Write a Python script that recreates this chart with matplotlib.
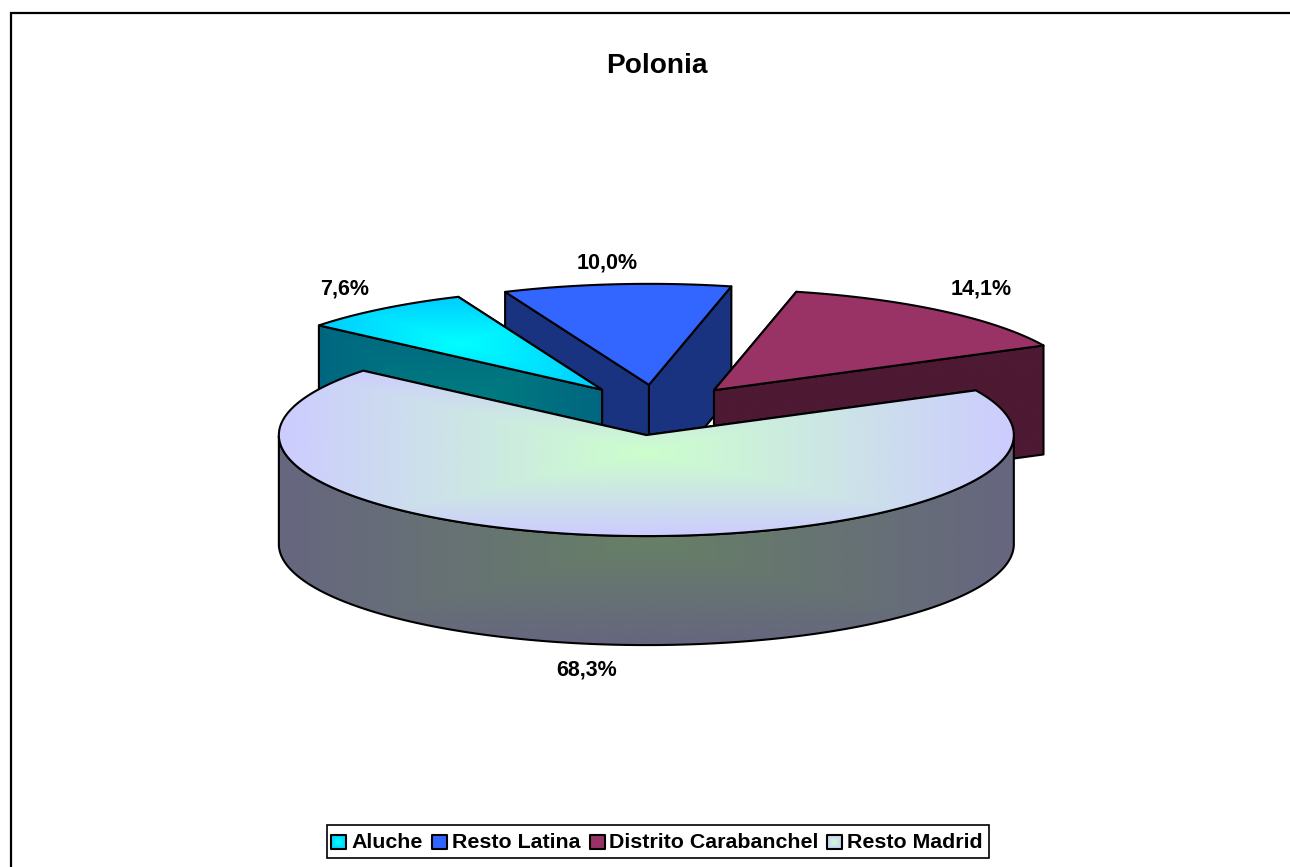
import numpy as np
import matplotlib
matplotlib.use("Agg")
import matplotlib.pyplot as plt
from matplotlib.patches import Polygon, Rectangle

plt.rcParams['font.family'] = ['Liberation Sans', 'DejaVu Sans']

categories = ["Aluche", "Resto Latina", "Distrito Carabanchel", "Resto Madrid"]
shares = [7.6, 10.0, 14.1, 68.3]
share_labels = ["7,6%", "10,0%", "14,1%", "68,3%"]
exploded = [0.25, 0.25, 0.25, 0.25]

# colours: top centre, top edge, side centre, side edge
top_centre = [(0, 255, 255), (51, 102, 255), (153, 51, 102), (204, 255, 204)]
top_edge = [(0, 204, 255), (51, 102, 255), (153, 51, 102), (204, 204, 255)]
side_centre = [(0, 128, 128), (25, 51, 128), (77, 25, 51), (102, 128, 102)]
side_edge = [(0, 102, 128), (25, 51, 128), (77, 25, 51), (102, 102, 128)]

# layout, in figure pixels
cx, cy = 657, 410
rx, ry = 367.5, 101
depth = 109
start_angle = 140.4
label_pos = [(345, 289.5), (607, 262.5), (981, 289.5), (587, 670)]
swatch_x = [331, 432, 590, 827]
legend_text_x = [351, 452, 609, 847]

fig = plt.figure(figsize=(12.9, 8.67), dpi=100)
ax = fig.add_axes([0, 0, 1, 1])


def fill(verts, centre, edge, z, lw=1.5):
    # path-style gradient from the middle of the shape out to its bounding box
    verts = np.array(verts)
    x0, y0 = verts.min(axis=0)
    x1, y1 = verts.max(axis=0)
    xx, yy = np.meshgrid(np.linspace(-1, 1, 300), np.linspace(-1, 1, 300))
    t = np.maximum(np.abs(xx), np.abs(yy))[..., None]
    img = (np.array(centre) * (1 - t) + np.array(edge) * t) / 255
    im = ax.imshow(img, extent=(x0, x1, y0, y1), origin='lower', aspect='auto',
                   interpolation='bilinear', zorder=z)
    outline = Polygon(verts, closed=True, facecolor='none', edgecolor='black',
                      linewidth=lw, joinstyle='round', zorder=z + 0.5)
    ax.add_patch(outline)
    im.set_clip_path(outline)


z = 1
for i in [1, 0, 2, 3]:
    a0 = start_angle - sum(shares[:i]) * 3.6
    a1 = a0 - shares[i] * 3.6
    mid = np.radians((a0 + a1) / 2)
    apex = np.array([cx + exploded[i] * rx * np.cos(mid),
                     cy - exploded[i] * ry * np.sin(mid)])
    th = np.radians(np.linspace(a0, a1, 240))
    arc = np.column_stack([apex[0] + rx * np.cos(th), apex[1] - ry * np.sin(th)])
    down = np.array([0, depth])

    # the two cut faces, the one further back first
    for tip in sorted((arc[0], arc[-1]), key=lambda p: p[1]):
        fill([tip, apex, apex + down, tip + down], side_centre[i], side_edge[i], z)
        z += 1

    # outer wall, only where the rim faces the viewer
    front = np.sin(th) < 0
    if front.any():
        rim = arc[front]
        fill(np.vstack([rim, rim[::-1] + down]), side_centre[i], side_edge[i], z)
        z += 1

    fill(np.vstack([apex, arc]), top_centre[i], top_edge[i], z)
    z += 1

for lab, pos in zip(share_labels, label_pos):
    ax.text(pos[0], pos[1], lab, ha='center', va='center', fontsize=15.5,
            fontweight='bold', color='black', zorder=z)

ax.text(657, 66, "Polonia", ha='center', va='center', fontsize=20.2,
        fontweight='bold', color='black', zorder=z)

# legend
ax.add_patch(Rectangle((327, 825), 662, 33, facecolor='white', edgecolor='black',
                       linewidth=1.2, zorder=z))
z += 1
for i, name in enumerate(categories):
    sx = swatch_x[i]
    fill([(sx, 835), (sx + 15, 835), (sx + 15, 849), (sx, 849)],
         top_centre[i], top_edge[i], z, lw=1.5)
    ax.text(legend_text_x[i], 843, name, ha='left', va='center', fontsize=15.4,
            fontweight='bold', color='black', zorder=z + 1)

# chart frame, left and top sides only show
ax.plot([10.5, 10.5, 1290], [867, 13, 13], color='black', linewidth=1.6,
        solid_joinstyle='miter', zorder=z + 2)

ax.set_xlim(0, 1290)
ax.set_ylim(867, 0)
ax.axis('off')

fig.savefig("out.png", dpi=100, facecolor='white')
